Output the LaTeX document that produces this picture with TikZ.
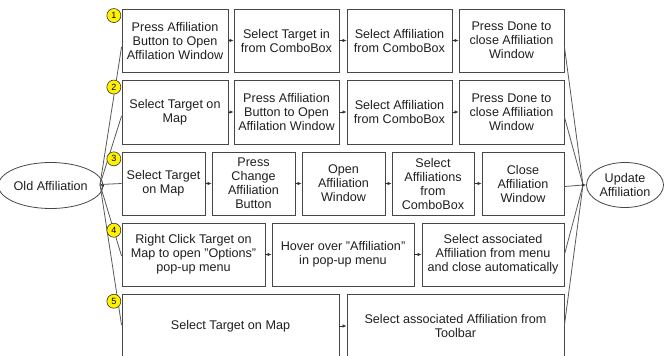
\documentclass[tikz,border=0pt]{standalone}
\usepackage{fontspec}
\setmainfont{Liberation Sans}
\usetikzlibrary{shapes.geometric,arrows.meta}
\newcommand\stepnode[6]{\node[stepbox, minimum width={#4-#2}, minimum height={#5-#3}] (#1) at ({(#2+#4)/2},{(#3+#5)/2}) {#6};}
\begin{document}
\begin{tikzpicture}[x=1pt,y=-1pt,
  stepbox/.style={draw=black!72, line width=0.9pt, align=center, font=\fontsize{12.6}{14}\selectfont, text=black!88, inner sep=0pt},
  oval/.style={ellipse, draw=black!72, line width=0.8pt, align=center, font=\fontsize{12.6}{14}\selectfont, text=black!88, inner sep=0pt},
  link/.style={draw=black!80, line width=0.7pt, -{Latex[length=4pt,width=3.5pt]}},
  fan/.style={draw=black!65, line width=0.8pt},
  numdot/.style={circle, draw=black!80, line width=0.6pt, fill=yellow, minimum size=14pt, inner sep=0pt, font=\fontsize{9}{9}\selectfont}
]
\useasboundingbox (0,0) rectangle (664,356);

% row 1
\stepnode{A1}{122}{9}{228}{72}{Press Affiliation\\Button to Open\\Affilation Window}
\stepnode{A2}{234}{9}{339}{72}{Select Target in\\from ComboBox}
\stepnode{A3}{347}{9}{452}{72}{Select Affiliation\\from ComboBox}
\stepnode{A4}{459}{9}{564}{72}{Press Done to\\close Affiliation\\Window}
% row 2
\stepnode{B1}{122}{80}{228}{144}{Select Target on\\Map}
\stepnode{B2}{234}{80}{339}{144}{Press Affiliation\\Button to Open\\Affilation Window}
\stepnode{B3}{347}{80}{452}{144}{Select Affiliation\\from ComboBox}
\stepnode{B4}{459}{80}{564}{144}{Press Done to\\close Affiliation\\Window}
% row 3
\stepnode{C1}{122}{152}{205}{215}{Select Target\\on Map}
\stepnode{C2}{212}{152}{295}{215}{Press\\Change\\Affiliation\\Button}
\stepnode{C3}{302}{152}{385}{215}{Open\\Affiliation\\Window}
\stepnode{C4}{392}{152}{474}{215}{Select\\Affiliations\\from\\ComboBox}
\stepnode{C5}{482}{152}{564}{215}{Close\\Affiliation\\Window}
% row 4
\stepnode{D1}{122}{223}{265}{286}{Right Click Target on\\Map to open "Options"\\pop-up menu}
\stepnode{D2}{272}{223}{414}{286}{Hover over "Affiliation"\\in pop-up menu}
\stepnode{D3}{422}{223}{564}{286}{Select associated\\Affiliation from menu\\and close automatically}
% row 5
\stepnode{E1}{122}{294}{339}{358}{Select Target on Map}
\stepnode{E2}{347}{294}{564}{358}{Select associated Affiliation from\\Toolbar}

% ellipses
\node[oval, minimum width=83pt, minimum height=46pt] (old) at (50.7,185.5) {Old Affiliation};
\node[oval, minimum width=77pt, minimum height=45pt] (upd) at (625,185) {Update\\Affiliation};
\coordinate (J1) at (100,184.5);
\coordinate (J2) at (583,185);

% arrows in rows
\draw[link] (A1) -- (A2); \draw[link] (A2) -- (A3); \draw[link] (A3) -- (A4);
\draw[link] (B1) -- (B2); \draw[link] (B2) -- (B3); \draw[link] (B3) -- (B4);
\draw[link] (C1) -- (C2); \draw[link] (C2) -- (C3); \draw[link] (C3) -- (C4); \draw[link] (C4) -- (C5);
\draw[link] (D1) -- (D2); \draw[link] (D2) -- (D3);
\draw[link] (E1) -- (E2);

% fan-out
\draw[link] (old.east) -- (J1);
\draw[fan] (J1) -- ([yshift=-6.5pt]A1.west);
\draw[fan] (J1) -- ([yshift=-4pt]B1.west);
\draw[fan] (J1) -- (C1.west);
\draw[fan] (J1) -- ([yshift=-1.5pt]D1.west);
\draw[fan] (J1) -- ([yshift=1pt]E1.west);
% fan-in
\draw[fan] ([yshift=-6.5pt]A4.east) -- (J2);
\draw[fan] ([yshift=-5pt]B4.east) -- (J2);
\draw[fan] ([yshift=-3pt]C5.east) -- (J2);
\draw[fan] (D3.east) -- (J2);
\draw[fan] ([yshift=1pt]E2.east) -- (J2);
\draw[link] (J2) -- (upd.west);

% numbers
\node[numdot] (n1) at ([xshift=-7.7pt,yshift=-7pt]A1.north west) {1};
\node[numdot] (n2) at ([xshift=-7.7pt,yshift=-7.5pt]B1.north west) {2};
\node[numdot] (n3) at ([xshift=-7.7pt,yshift=-7.3pt]C1.north west) {3};
\node[numdot] (n4) at ([xshift=-7.7pt,yshift=-7.7pt]D1.north west) {4};
\node[numdot] (n5) at ([xshift=-7.7pt,yshift=-7.7pt]E1.north west) {5};
\end{tikzpicture}
\end{document}
